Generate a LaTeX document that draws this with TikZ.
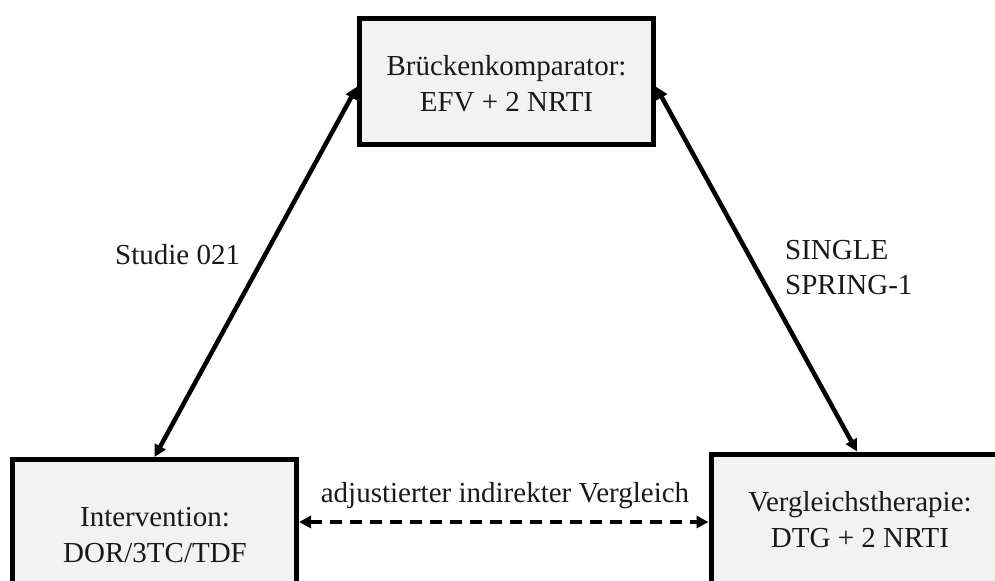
\documentclass[tikz,border=0pt]{standalone}
\usepackage{fontspec}
\setmainfont{Liberation Serif}
\usetikzlibrary{arrows.meta}
\definecolor{boxfill}{HTML}{F2F2F2}
\begin{document}
\begin{tikzpicture}[x=1bp,y=-1bp,
  box/.style={draw=black, line width=5bp, fill=boxfill, rectangle, inner sep=0pt},
  txt/.style={font=\fontsize{29bp}{36bp}\selectfont, inner sep=0pt, align=center, text=black!90},
  lbl/.style={font=\fontsize{29bp}{35bp}\selectfont, inner sep=0pt, text=black!90},
  tip/.style={Triangle[length=12bp,width=12bp]},
  link/.style={line width=4.5bp, {Triangle[length=12bp,width=12bp]}-{Triangle[length=12bp,width=12bp]}},
  dlink/.style={link, dash pattern=on 12bp off 8bp},
]
\useasboundingbox (0,0) rectangle (995,581);
\clip (0,0) rectangle (995,581);
\fill[white] (0,0) rectangle (995,581);
% boxes
\node[box, minimum width=294bp, minimum height=126.5bp] (topbox) at (506.5,81.75) {};
\node[box, minimum width=284bp, minimum height=200bp] (lbox) at (154.5,559.5) {};
\node[box, minimum width=294bp, minimum height=200bp] (rbox) at (858,554) {};
% box texts
\node[txt] (toptxt) at (506.5,84) {Brückenkomparator:\\EFV + 2 NRTI};
\node[txt] (ltxt) at (155,534.6) {Intervention:\\DOR/3TC/TDF};
\node[txt] (rtxt) at (860,519.6) {Vergleichstherapie:\\DTG + 2 NRTI};
% connectors
\coordinate (dy) at (0,522);
\draw[link] ([yshift=-5bp]topbox.west) -- (lbox.north);
\draw[link] ([yshift=-5bp]topbox.east) -- ([xshift=-1bp]rbox.north);
\draw[dlink] (lbox.east |- dy) -- (rbox.west |- dy);
% labels
\node[lbl, anchor=base west] (l021) at (115,265) {Studie 021};
\node[lbl, anchor=base west] (lsingle) at (785,260) {SINGLE};
\node[lbl, anchor=base west] (lspring) at (785,295) {SPRING-1};
\node[lbl, anchor=base] (lind) at (505,502) {adjustierter indirekter Vergleich};
\end{tikzpicture}
\end{document}
